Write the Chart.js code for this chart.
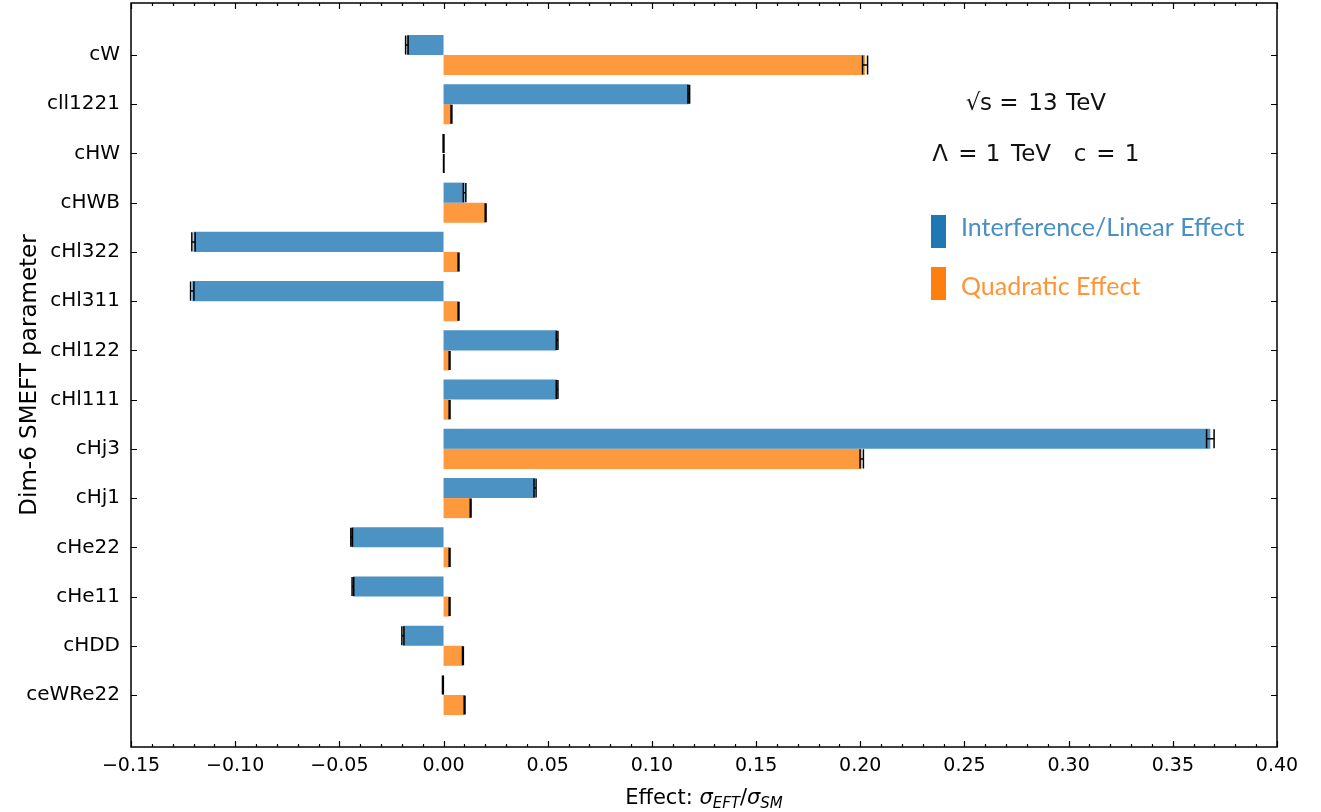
<!DOCTYPE html>
<html>
<head>
<meta charset="utf-8">
<script src="https://cdn.jsdelivr.net/npm/chart.js@4/dist/chart.umd.min.js"></script>
<style>
html,body{margin:0;padding:0;background:#fff;}
#wrap{width:1321px;height:812px;position:relative;}
</style>
</head>
<body>
<div id="wrap"><canvas id="c" width="1321" height="812"></canvas></div>
<script>
const categories = ["cW","cll1221","cHW","cHWB","cHl322","cHl311","cHl122","cHl111","cHj3","cHj1","cHe22","cHe11","cHDD","ceWRe22"];
const linearEffect = [-0.0176, 0.1177, 0.0000, 0.0101, -0.1200, -0.1206, 0.0545, 0.0545, 0.3680, 0.0439, -0.0441, -0.0435, -0.0195, -0.0003];
const linearError  = [0.0006, 0.0004, 0.0002, 0.0006, 0.0008, 0.0008, 0.0004, 0.0004, 0.0018, 0.0005, 0.0004, 0.0004, 0.0005, 0.0002];
const quadEffect   = [0.2023, 0.0038, 0.0001, 0.0202, 0.0072, 0.0072, 0.0029, 0.0029, 0.2007, 0.0130, 0.0029, 0.0029, 0.0093, 0.0101];
const quadError    = [0.0012, 0.0002, 0.0001, 0.0002, 0.0002, 0.0002, 0.0002, 0.0002, 0.0008, 0.0002, 0.0002, 0.0002, 0.0002, 0.0002];
const xTicks = [-0.15,-0.10,-0.05,0.00,0.05,0.10,0.15,0.20,0.25,0.30,0.35,0.40];

const BLUE = 'rgba(31,119,180,0.8)';
const ORANGE = 'rgba(255,127,14,0.8)';
const FONT = "'DejaVu Sans', sans-serif";
const TFONT = "Lato, 'DejaVu Sans', sans-serif";

const errs = [linearError, quadError];

const decor = {
  id: 'decor',
  afterDatasetsDraw(chart) {
    const ctx = chart.ctx;
    const xs = chart.scales.x;
    ctx.save();
    ctx.strokeStyle = '#000';
    ctx.lineWidth = 1.5;
    chart.data.datasets.forEach((ds, di) => {
      const meta = chart.getDatasetMeta(di);
      meta.data.forEach((el, i) => {
        const v = ds.data[i].x;
        const e = errs[di][i];
        const x1 = xs.getPixelForValue(v - e), x2 = xs.getPixelForValue(v + e);
        const h = el.height / 2 - 0.5;
        ctx.beginPath();
        ctx.moveTo(x1, el.y); ctx.lineTo(x2, el.y);
        ctx.moveTo(x1, el.y - h); ctx.lineTo(x1, el.y + h);
        ctx.moveTo(x2, el.y - h); ctx.lineTo(x2, el.y + h);
        ctx.stroke();
      });
    });
    ctx.restore();
  },
  afterDraw(chart) {
    const ctx = chart.ctx;
    const a = chart.chartArea;
    const xs = chart.scales.x, ys = chart.scales.y;
    ctx.save();
    // frame
    ctx.strokeStyle = '#000';
    ctx.lineWidth = 1.5;
    ctx.strokeRect(a.left, a.top, a.right - a.left, a.bottom - a.top);
    // ticks inward
    ctx.lineWidth = 1.2;
    ctx.beginPath();
    for (let k = -15; k <= 40; k++) {
      const v = k / 100;
      const px = Math.round(xs.getPixelForValue(v)) + 0.5;
      const major = (k % 5 === 0);
      const L = major ? 6 : 3;
      ctx.moveTo(px, a.bottom); ctx.lineTo(px, a.bottom - L);
      ctx.moveTo(px, a.top); ctx.lineTo(px, a.top + L);
    }
    categories.forEach((c, i) => {
      const py = Math.round(ys.getPixelForValue(i)) + 0.5;
      ctx.moveTo(a.left, py); ctx.lineTo(a.left + 6, py);
      ctx.moveTo(a.right, py); ctx.lineTo(a.right - 6, py);
    });
    ctx.stroke();

    // annotations (pieces placed like math-mode spacing)
    ctx.fillStyle = '#111';
    ctx.textBaseline = 'alphabetic';
    ctx.textAlign = 'center';
    ctx.font = "23px " + FONT;
    const line1 = [["\u221A", 973], ["s", 986], ["=", 1009], ["13", 1043], ["TeV", 1086]];
    line1.forEach(([t, x]) => ctx.fillText(t, x, 110));
    const line2 = [["\u039B", 940], ["=", 968], ["1", 993], ["TeV", 1031], ["c", 1080], ["=", 1106], ["1", 1132]];
    line2.forEach(([t, x]) => ctx.fillText(t, x, 161));

    // legend
    ctx.textAlign = 'left';
    ctx.fillStyle = '#1f77b4';
    ctx.fillRect(931, 215, 15, 33);
    ctx.fillStyle = '#ff7f0e';
    ctx.fillRect(931, 267, 15, 33);
    ctx.font = "25px " + TFONT;
    ctx.textBaseline = 'middle';
    ctx.fillStyle = '#4a8fc2';
    ctx.fillText("Interference/Linear Effect", 961, 228);
    ctx.fillStyle = '#ff9436';
    ctx.fillText("Quadratic Effect", 961, 287);

    // y title
    ctx.fillStyle = '#000';
    ctx.font = "23px " + FONT;
    ctx.save();
    ctx.translate(30, (a.top + a.bottom) / 2);
    ctx.rotate(-Math.PI / 2);
    ctx.textAlign = 'center';
    ctx.fillText("Dim-6 SMEFT parameter", 0, 0);
    ctx.restore();

    // x title with math
    const parts = [
      {t: "Effect: ", f: "21px " + FONT, dy: 0},
      {t: "\u03C3", f: "italic 21px " + FONT, dy: 0},
      {t: "EFT", f: "italic 15px " + FONT, dy: 4},
      {t: "/", f: "21px " + FONT, dy: 0},
      {t: "\u03C3", f: "italic 21px " + FONT, dy: 0},
      {t: "SM", f: "italic 15px " + FONT, dy: 4}
    ];
    let total = 0;
    parts.forEach(p => { ctx.font = p.f; p.w = ctx.measureText(p.t).width; total += p.w; });
    let x = (a.left + a.right) / 2 - total / 2;
    ctx.textAlign = 'left';
    ctx.textBaseline = 'alphabetic';
    parts.forEach(p => { ctx.font = p.f; ctx.fillText(p.t, x, 804 + p.dy); x += p.w; });
    ctx.restore();
  }
};

const ds = (vals) => vals.map((v, i) => ({x: v, y: i}));

new Chart(document.getElementById('c'), {
  type: 'bar',
  data: {
    datasets: [
      {label: 'Interference/Linear Effect', data: ds(linearEffect), backgroundColor: BLUE, borderWidth: 0},
      {label: 'Quadratic Effect', data: ds(quadEffect), backgroundColor: ORANGE, borderWidth: 0}
    ]
  },
  options: {
    indexAxis: 'y',
    responsive: false,
    animation: false,
    categoryPercentage: 0.815,
    barPercentage: 1.0,
    layout: {padding: {left: 0, right: 44, top: 3, bottom: 0}},
    plugins: {legend: {display: false}, tooltip: {enabled: false}},
    scales: {
      x: {
        type: 'linear',
        min: -0.15, max: 0.40,
        offset: false,
        grid: {display: false, drawTicks: false},
        border: {display: false},
        afterBuildTicks: (s) => { s.ticks = xTicks.map(v => ({value: v})); },
        afterFit: (s) => { s.height = 65; s.paddingLeft = 0; s.paddingRight = 0; },
        ticks: {
          color: '#000', padding: 8,
          font: {family: FONT, size: 19},
          callback: (v) => (v < 0 ? '\u2212' : '') + Math.abs(v).toFixed(2)
        }
      },
      y: {
        type: 'linear',
        reverse: true,
        offset: false,
        min: -1.056, max: 14.056,
        grid: {display: false, drawTicks: false, offset: false},
        border: {display: false},
        afterBuildTicks: (s) => { s.ticks = categories.map((c, i) => ({value: i})); },
        afterFit: (s) => { s.width = 131; s.paddingTop = 0; s.paddingBottom = 0; },
        ticks: {
          color: '#000', padding: 11,
          font: {family: FONT, size: 20},
          callback: (v) => categories[Math.round(v)] || ''
        }
      }
    }
  },
  plugins: [decor]
});
</script>
</body>
</html>
